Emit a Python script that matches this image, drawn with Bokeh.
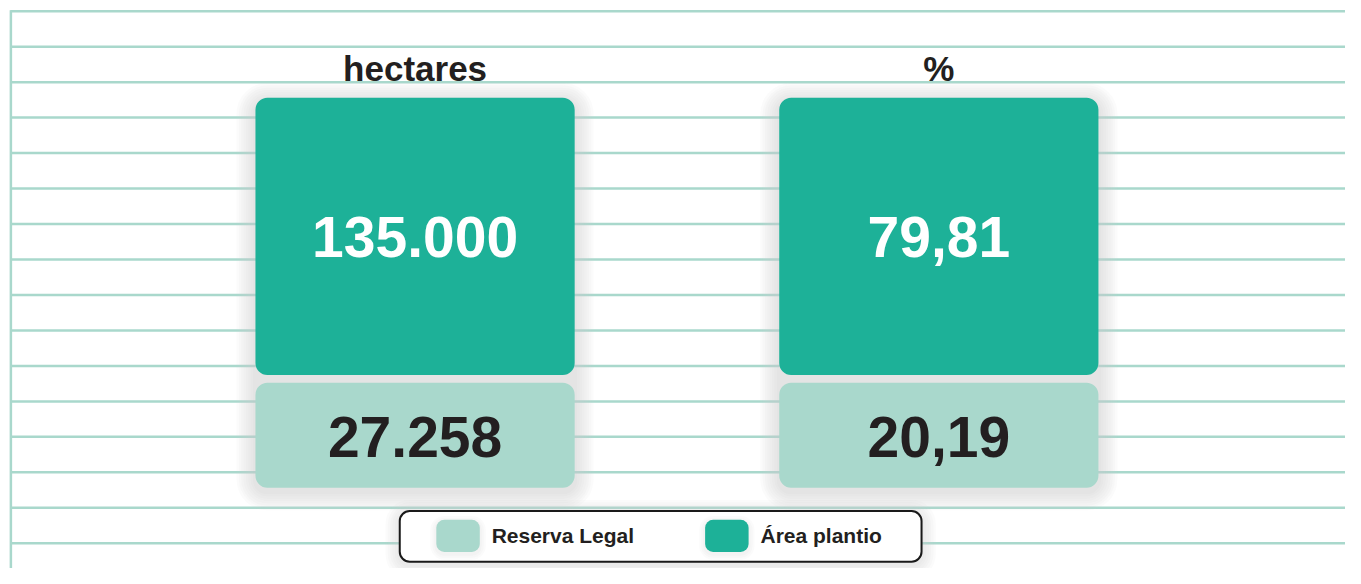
from bokeh.plotting import figure
from bokeh.models import Range1d
from bokeh.core.properties import value
from bokeh.embed import file_html
from bokeh.resources import INLINE

# ---- data ----
categories = ["hectares", "%"]
area_plantio = [135000, 79.81]
reserva_legal = [27258, 20.19]
series_names = ["Reserva Legal", "Área plantio"]

def fmt(v, cat):
    if cat == "hectares":
        return f"{v:,.0f}".replace(",", ".")
    return f"{v:.2f}".replace(".", ",")

# ---- styles ----
DARK = "#1DB198"
LIGHT = "#A9D8CC"
LINE = "#A9D8CC"
TXT = "#231F20"
FONT = value("Liberation Sans")

W, H = 1345, 568          # figure size (fits the window with its 8px margin)
RW, RH = 1361, 584        # design space
SY = H / RH

p = figure(width=W, height=H, output_backend="svg", toolbar_location=None,
           x_range=Range1d(0, RW), y_range=Range1d(0, RH),
           min_border=0, outline_line_color=None, background_fill_color="white",
           border_fill_color="white")
p.axis.visible = False
p.grid.visible = False

def Y(ry):
    return RH - ry

def YB(ry, fs):
    # alphabetic baseline correction
    return Y(ry) + 0.37 * fs / SY

# notebook lines
line_top, line_gap, n_lines = 11, 36.47, 16
ys = [Y(line_top + i * line_gap) for i in range(n_lines)]
p.segment(x0=[10] * n_lines, x1=[RW] * n_lines, y0=ys, y1=ys,
          line_color=LINE, line_width=2.5)
p.segment(x0=[10.5], x1=[10.5], y0=[Y(10)], y1=[Y(RH)], line_color=LINE, line_width=2.5)

# layout
centers = [419.5, 949.5]
bw = 323
top_box = (100, 385)
bot_box = (393, 501)

def shadow(l, r, t, b, rad, layers=8, step=2.4, dy=4, alpha=0.08):
    for k in range(1, layers + 1):
        e = k * step
        p.quad(left=[l - e], right=[r + e], top=[Y(t - e + dy)], bottom=[Y(b + e + dy)],
               fill_color="#cfcfcf", fill_alpha=alpha, line_color=None,
               border_radius=int(round(rad + e)))

for cx in centers:
    shadow(cx - bw / 2, cx + bw / 2, top_box[0], bot_box[1], 12)

lefts = [c - bw / 2 for c in centers]
rights = [c + bw / 2 for c in centers]
p.quad(left=lefts, right=rights, top=[Y(top_box[0])] * 2, bottom=[Y(top_box[1])] * 2,
       fill_color=DARK, line_color=None, border_radius=12)
p.quad(left=lefts, right=rights, top=[Y(bot_box[0])] * 2, bottom=[Y(bot_box[1])] * 2,
       fill_color=LIGHT, line_color=None, border_radius=12)

# titles
fs_t, fs_v, fs_l = 35, 57, 21
p.text(x=centers, y=[YB(83, fs_t)] * 2, text=categories, text_font=FONT, text_font_style="bold",
       text_font_size=f"{fs_t}px", text_color=TXT, text_align="center", text_baseline="alphabetic")
# values
p.text(x=centers, y=[YB(265, fs_v)] * 2, text=[fmt(v, c) for v, c in zip(area_plantio, categories)],
       text_font=FONT, text_font_style="bold", text_font_size=f"{fs_v}px", text_color="white",
       text_align="center", text_baseline="alphabetic")
p.text(x=centers, y=[YB(470, fs_v)] * 2, text=[fmt(v, c) for v, c in zip(reserva_legal, categories)],
       text_font=FONT, text_font_style="bold", text_font_size=f"{fs_v}px", text_color=TXT,
       text_align="center", text_baseline="alphabetic")

# legend
shadow(404, 932, 525, 577, 10, layers=6, step=2.4, dy=3, alpha=0.08)
p.quad(left=[404], right=[932], top=[Y(525)], bottom=[Y(577)], fill_color="white",
       line_color="#1a1a1a", line_width=2, border_radius=10)
sw_left = [441, 713]
sw_colors = [LIGHT, DARK]
for sl in sw_left:
    shadow(sl, sl + 44, 534, 567, 8, layers=3, step=2, dy=2, alpha=0.08)
p.quad(left=sw_left, right=[s + 44 for s in sw_left], top=[Y(534)] * 2, bottom=[Y(567)] * 2,
       fill_color=sw_colors, line_color=None, border_radius=8)
p.text(x=[s + 56 for s in sw_left], y=[YB(558, fs_l)] * 2, text=series_names, text_font=FONT,
       text_font_style="bold", text_font_size=f"{fs_l}px", text_color=TXT, text_align="left",
       text_baseline="alphabetic")

open("out.html", "w").write(file_html(p, INLINE))
